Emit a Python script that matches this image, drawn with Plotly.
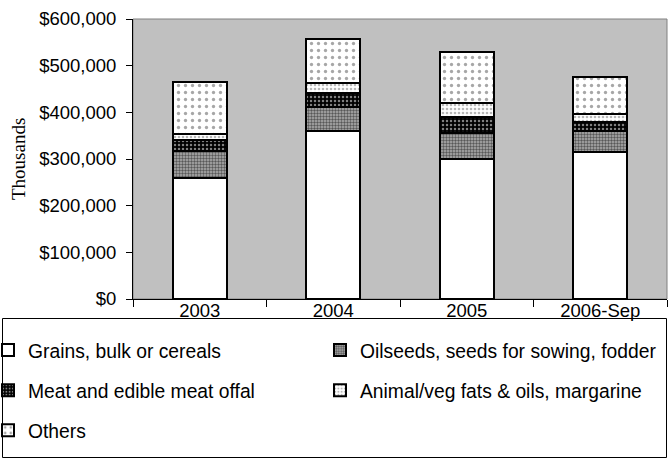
import plotly.graph_objects as go

years = ["2003", "2004", "2005", "2006-Sep"]
series_names = [
    "Grains, bulk or cereals",
    "Oilseeds, seeds for sowing, fodder",
    "Meat and edible meat offal",
    "Animal/veg fats & oils, margarine",
    "Others",
]
grains = [260000, 360000, 300000, 315000]
oilseeds = [57000, 52000, 55000, 44000]
meat = [24000, 30000, 36000, 20000]
fats = [13000, 21000, 29000, 18000]
others = [112000, 94000, 110000, 79000]

W, H = 668, 459
L, R, T, B = 133, 1, 19, 160
PW, PH = W - L - R, H - T - B

def px_x(p):
    return (p - L) / PW

def px_y(p):
    return (H - B - p) / PH

patterns = [
    dict(shape="", bgcolor="white"),
    dict(shape=".", fgcolor="#000000", bgcolor="#b0b0b0", size=3, solidity=0.5, fillmode="overlay"),
    dict(shape=".", fgcolor="#ffffff", bgcolor="#000000", size=4, solidity=0.3, fillmode="overlay"),
    dict(shape=".", fgcolor="#707070", bgcolor="#ffffff", size=4, solidity=0.35, fillmode="overlay"),
    dict(shape=".", fgcolor="#505050", bgcolor="#ffffff", size=7, solidity=0.18, fillmode="overlay"),
]
values = [grains, oilseeds, meat, fats, others]
legend_of = ["legend", "legend2", "legend", "legend2", "legend"]

fig = go.Figure()
for i, (name, vals) in enumerate(zip(series_names, values)):
    fig.add_trace(go.Bar(
        x=years, y=vals, name=name,
        marker=dict(color="white", line=dict(color="black", width=2), pattern=patterns[i]),
        legend=legend_of[i], legendgroup=name,
    ))

font = dict(family="Liberation Sans, Arial, sans-serif", size=18.5, color="black")
leg_font = dict(family="Liberation Sans, Arial, sans-serif", size=19.3, color="black")
leg_common = dict(
    orientation="v", traceorder="grouped", tracegroupgap=12,
    font=leg_font, bgcolor="rgba(0,0,0,0)", borderwidth=0,
    xref="paper", yref="paper", xanchor="left", yanchor="top",
    itemwidth=30,
)

fig.update_layout(
    width=W, height=H,
    margin=dict(l=L, r=R, t=T, b=B, pad=0, autoexpand=False),
    barmode="stack", bargap=0.595,
    plot_bgcolor="#C0C0C0", paper_bgcolor="white",
    font=font,
    showlegend=True,
    legend=dict(**leg_common, x=px_x(-12), y=px_y(331)),
    legend2=dict(**leg_common, x=px_x(320), y=px_y(331)),
    xaxis=dict(
        showline=True, linecolor="black", linewidth=1,
        ticks="outside", ticklen=7, tickcolor="black", tickson="boundaries",
        ticklabelstandoff=-5,
        showgrid=False, tickfont=font,
    ),
    yaxis=dict(
        range=[0, 600000], dtick=100000, tickprefix="$", tickformat=",",
        showline=True, linecolor="black", linewidth=1,
        ticks="outside", ticklen=6, tickcolor="black", ticklabelstandoff=6,
        showgrid=False, tickfont=font, zeroline=False,
    ),
    annotations=[
        dict(text="Thousands", xref="paper", yref="paper", x=px_x(18), y=0.5,
             textangle=-90, showarrow=False, xanchor="center", yanchor="middle",
             font=dict(family="Liberation Serif, Times New Roman, serif", size=19, color="black")),
    ],
    shapes=[
        dict(type="rect", xref="paper", yref="paper", x0=0, x1=1, y0=0, y1=1,
             line=dict(color="#808080", width=1), layer="below"),
        dict(type="rect", xref="paper", yref="paper",
             x0=px_x(2.5), x1=px_x(666.5), y0=px_y(457.5), y1=px_y(318.5),
             line=dict(color="black", width=1)),
    ],
)

fig.write_html(
    "out.html",
    config={"displayModeBar": False},
    post_script="document.body.style.margin='0';document.body.style.padding='0';",
)
